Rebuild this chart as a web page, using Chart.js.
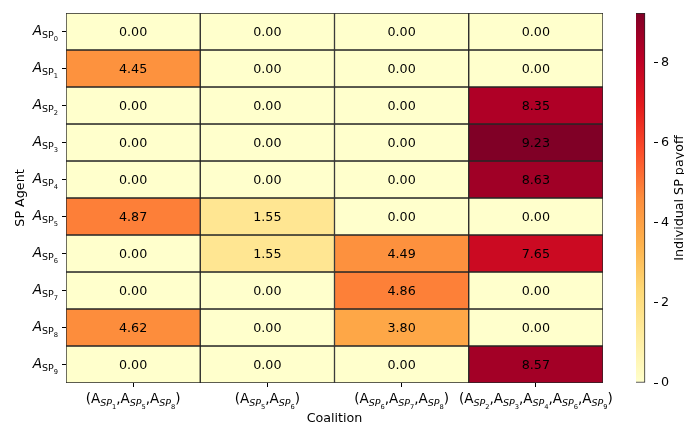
<!DOCTYPE html>
<html>
<head>
<meta charset="utf-8">
<script src="https://cdn.jsdelivr.net/npm/chart.js@4.4.0/dist/chart.umd.min.js"></script>
<style>
  body { margin: 0; background: #fff; }
  #wrap { position: relative; width: 684px; height: 423px; }
  #wrap canvas { position: absolute; left: 0; top: 0; }
</style>
</head>
<body>
<div id="wrap">
  <canvas id="heat" width="684" height="423"></canvas>
  <canvas id="cbar" width="684" height="423"></canvas>
</div>
<script>
// SP agents (rows) and the coalitions they can join (columns)
const agents = [0, 1, 2, 3, 4, 5, 6, 7, 8, 9];
const coalitions = [[1, 5, 8], [5, 6], [6, 7, 8], [2, 3, 4, 6, 9]];

// individual payoff of each agent inside each coalition
const payoffC1 = [0.00, 4.45, 0.00, 0.00, 0.00, 4.87, 0.00, 0.00, 4.62, 0.00];
const payoffC2 = [0.00, 0.00, 0.00, 0.00, 0.00, 1.55, 1.55, 0.00, 0.00, 0.00];
const payoffC3 = [0.00, 0.00, 0.00, 0.00, 0.00, 0.00, 4.49, 4.86, 3.80, 0.00];
const payoffC4 = [0.00, 0.00, 8.35, 9.23, 8.63, 0.00, 7.65, 0.00, 0.00, 8.57];
const payoffs = [payoffC1, payoffC2, payoffC3, payoffC4];

const cbarTicks = [0, 2, 4, 6, 8];

const vmax = Math.max(...payoffs.flat());
const FONT = '"DejaVu Sans", sans-serif';

// YlOrRd colour stops
const ylOrRd = ['#ffffcc', '#ffeda0', '#fed976', '#feb24c', '#fd8d3c', '#fc4e2a', '#e31a1c', '#bd0026', '#800026'];

const hexToRgb = (h) => [1, 3, 5].map((i) => parseInt(h.slice(i, i + 2), 16));

const colorFor = (t) => {
  t = Math.min(1, Math.max(0, t));
  const pos = t * (ylOrRd.length - 1);
  const i = Math.min(Math.floor(pos), ylOrRd.length - 2);
  const f = pos - i;
  const a = hexToRgb(ylOrRd[i]);
  const b = hexToRgb(ylOrRd[i + 1]);
  const c = a.map((v, k) => Math.round(v + (b[k] - v) * f));
  return `rgb(${c[0]}, ${c[1]}, ${c[2]})`;
};

// draw a run of text pieces, each with its own font and baseline shift
const drawRich = (ctx, parts, x, y, align) => {
  let total = 0;
  parts.forEach((p) => {
    ctx.font = p.font;
    p.w = ctx.measureText(p.text).width;
    total += p.w;
  });
  let cx = align === 'right' ? x - total : align === 'center' ? x - total / 2 : x;
  ctx.textAlign = 'left';
  ctx.textBaseline = 'alphabetic';
  parts.forEach((p) => {
    ctx.font = p.font;
    ctx.fillText(p.text, cx, y + (p.dy || 0));
    cx += p.w;
  });
};

const agentParts = (i) => [
  { text: 'A', font: `italic 13.6px ${FONT}` },
  { text: 'SP', font: `9.5px ${FONT}`, dy: 3.2 },
  { text: String(i), font: `6.7px ${FONT}`, dy: 6 },
];

const coalitionParts = (members) => {
  const parts = [{ text: '(', font: `13.5px ${FONT}` }];
  members.forEach((m, k) => {
    if (k > 0) parts.push({ text: ',', font: `13.5px ${FONT}` });
    parts.push({ text: 'A', font: `13.5px ${FONT}` });
    parts.push({ text: 'SP', font: `italic 9.5px ${FONT}`, dy: 3.2 });
    parts.push({ text: String(m), font: `6.7px ${FONT}`, dy: 6 });
  });
  parts.push({ text: ')', font: `13.5px ${FONT}` });
  return parts;
};

// one dataset per agent row; each cell is a floating bar spanning the row
const datasets = agents.map((a, r) => ({
  label: 'A_SP' + a,
  data: payoffs.map(() => [r - 0.5, r + 0.5]),
  backgroundColor: payoffs.map((col) => colorFor(col[r] / vmax)),
  borderColor: '#262626',
  borderWidth: 1,
  borderSkipped: false,
  grouped: false,
  barPercentage: 1,
  categoryPercentage: 1,
}));

const cellLabels = {
  id: 'cellLabels',
  afterDatasetsDraw(chart) {
    const ctx = chart.ctx;
    ctx.save();
    ctx.fillStyle = '#000';
    ctx.font = `12.7px ${FONT}`;
    ctx.textAlign = 'center';
    ctx.textBaseline = 'middle';
    agents.forEach((a, r) => {
      chart.getDatasetMeta(r).data.forEach((el, c) => {
        ctx.fillText(payoffs[c][r].toFixed(2), el.x, (el.y + el.base) / 2 + 1);
      });
    });
    ctx.restore();
  },
};

const tickLabels = {
  id: 'tickLabels',
  afterDraw(chart) {
    const ctx = chart.ctx;
    const { x, y } = chart.scales;
    ctx.save();
    ctx.fillStyle = '#000';
    agents.forEach((a) => {
      drawRich(ctx, agentParts(a), y.right - 8, y.getPixelForValue(a) + 3, 'right');
    });
    coalitions.forEach((m, c) => {
      drawRich(ctx, coalitionParts(m), x.getPixelForValue(c), x.top + 20, 'center');
    });
    ctx.restore();
  },
};

new Chart(document.getElementById('heat'), {
  type: 'bar',
  data: {
    labels: coalitions.map((m) => '(' + m.map((v) => 'A_SP' + v).join(',') + ')'),
    datasets: datasets,
  },
  options: {
    responsive: false,
    animation: false,
    events: [],
    layout: { padding: { left: 0, top: 13, right: 81, bottom: 0 } },
    plugins: { legend: { display: false }, tooltip: { enabled: false } },
    scales: {
      x: {
        offset: true,
        grid: { offset: false, drawOnChartArea: false, tickLength: 4, color: '#000' },
        border: { display: false },
        ticks: { callback: () => '', autoSkip: false },
        title: { display: true, text: 'Coalition', color: '#000', font: { family: FONT, size: 12.7 }, padding: { top: 0, bottom: -3 } },
        afterFit: (s) => { s.height = 40; },
      },
      y: {
        reverse: true,
        min: -0.5,
        max: 9.5,
        afterBuildTicks: (s) => { s.ticks = agents.map((v) => ({ value: v })); },
        grid: { drawOnChartArea: false, tickLength: 4, color: '#000' },
        border: { display: false },
        ticks: { callback: () => '', autoSkip: false },
        title: { display: true, text: 'SP Agent', color: '#000', font: { family: FONT, size: 12.7 }, padding: { top: 13, bottom: 0 } },
        afterFit: (s) => { s.width = 66; },
      },
    },
  },
  plugins: [cellLabels, tickLabels],
});

// colour bar: a single floating bar from 0 to vmax with the colormap as gradient
const cbarTitle = {
  id: 'cbarTitle',
  afterDraw(chart) {
    const ctx = chart.ctx;
    const area = chart.chartArea;
    ctx.save();
    ctx.translate(680, (area.top + area.bottom) / 2);
    ctx.rotate(-Math.PI / 2);
    ctx.fillStyle = '#000';
    ctx.font = `12.7px ${FONT}`;
    ctx.textAlign = 'center';
    ctx.textBaseline = 'middle';
    ctx.fillText('Individual SP payoff', 0, 0);
    ctx.restore();
  },
};

new Chart(document.getElementById('cbar'), {
  type: 'bar',
  data: {
    labels: [''],
    datasets: [{
      data: [[0, vmax]],
      backgroundColor: (context) => {
        const area = context.chart.chartArea;
        if (!area) return '#ffffcc';
        const g = context.chart.ctx.createLinearGradient(0, area.bottom, 0, area.top);
        ylOrRd.forEach((c, i) => g.addColorStop(i / (ylOrRd.length - 1), c));
        return g;
      },
      borderColor: '#262626',
      borderWidth: 1,
      borderSkipped: false,
      barPercentage: 1,
      categoryPercentage: 1,
    }],
  },
  options: {
    responsive: false,
    animation: false,
    events: [],
    layout: { padding: { left: 636, top: 13, right: 0, bottom: 40 } },
    plugins: { legend: { display: false }, tooltip: { enabled: false } },
    scales: {
      x: { display: false, offset: false },
      y: {
        position: 'right',
        min: 0,
        max: vmax,
        afterBuildTicks: (s) => { s.ticks = cbarTicks.map((v) => ({ value: v })); },
        grid: { drawOnChartArea: false, tickLength: 4, color: '#000' },
        border: { display: false },
        ticks: { color: '#000', padding: 3, font: { family: FONT, size: 12.7 } },
        afterFit: (s) => { s.width = 30; },
      },
    },
  },
  plugins: [cbarTitle],
});
</script>
</body>
</html>
